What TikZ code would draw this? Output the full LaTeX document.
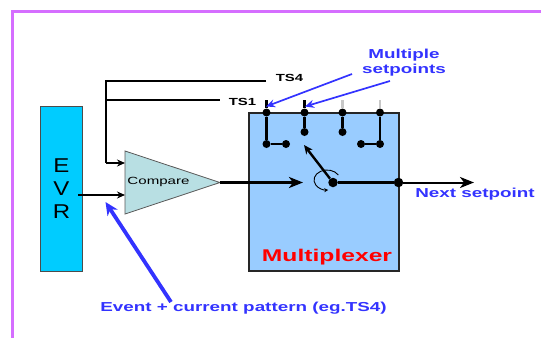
\documentclass[tikz,border=0pt]{standalone}
\usepackage{fontspec}
\setmainfont{Liberation Sans}
\newfontfamily\widefont[FakeStretch=1.45]{Liberation Sans}
\newfontfamily\evrfont[FakeStretch=1.2]{Liberation Sans}
\usetikzlibrary{arrows.meta,positioning}
\definecolor{clrFrame}{HTML}{D56EFF}
\definecolor{clrEvr}{HTML}{00CCFF}
\definecolor{clrMux}{HTML}{99CCFF}
\definecolor{clrCmp}{HTML}{B8DFE3}
\definecolor{clrNote}{HTML}{3333FF}
\tikzset{
  wire/.style={line width=2.3pt, black},
  stub/.style={line width=2.3pt, black!22},
  edge/.style={-{Stealth[length=8pt,width=7pt]}, line width=1.3pt, black},
  bigedge/.style={-{Stealth[length=14pt,width=11pt,inset=4pt]}, line width=2.6pt, black},
  pointer/.style={-{Stealth[length=9pt,width=8pt]}, line width=1.7pt, clrNote},
  dot/.style={circle, fill=black, inner sep=0pt, minimum size=8pt},
  note/.style={font=\widefont\fontsize{13}{15}\selectfont\bfseries, text=clrNote, align=center},
  tslab/.style={font=\widefont\fontsize{10.3}{12}\selectfont\bfseries},
  evrlab/.style={font=\evrfont\fontsize{20}{20}\selectfont},
}
\begin{document}
\begin{tikzpicture}[x=1pt,y=-1pt]
\useasboundingbox (0,0) rectangle (541,338);

% frame
\draw[clrFrame, line width=3pt] (541,11.5) -- (12,11.5) -- (12,338);

% boxes
\node[draw=black!70, line width=0.8pt, fill=clrEvr, minimum width=42pt, minimum height=165pt, inner sep=0pt] (evr) at (61,188.5) {};
\node[evrlab] (evrE) at (61.5,166) {E};
\node[evrlab] (evrV) at (61.5,189) {V};
\node[evrlab] (evrR) at (61.5,212) {R};
\node[draw=black!85, line width=2pt, fill=clrMux, minimum width=150pt, minimum height=158pt, inner sep=0pt] (mux) at (323.5,192) {};
\node[font=\widefont\fontsize{17}{19}\selectfont\bfseries, text=red] (muxlab) at (327,257) {Multiplexer};

% comparator
\draw[black!65, line width=0.8pt, fill=clrCmp] (125,151) coordinate (cmpA) -- (220,182.5) coordinate (cmpC) -- (125,214) coordinate (cmpB) -- cycle;
\node[font=\widefont\fontsize{10.4}{12}\selectfont] (cmplab) at (158.5,182) {Compare};

% inputs
\coordinate (evrout) at (78,195);
\coordinate (cmpin1) at (125,195);
\coordinate (cmpin2) at (125,163);
\coordinate (bend) at (106,163);
\coordinate (top4) at (106,81);
\coordinate (top1) at (106,100);
\coordinate (end4) at (266,81);
\coordinate (end1) at (220,100);
\draw[edge] (evrout) -- (cmpin1);
\draw[edge] (bend) -- (cmpin2);
\draw[wire] (end4) -- (top4) -- (bend);
\draw[wire] (top1) -- (end1);
\node[tslab] (ts4) at (289.5,78) {TS4};
\node[tslab] (ts1) at (242.5,102) {TS1};

% contacts
\coordinate (s1) at (266.5,100);
\coordinate (s2) at (304.5,100);
\coordinate (s3) at (342.5,100);
\coordinate (s4) at (380,100);
\node[dot] (t1) at (266.5,112.5) {};
\node[dot] (t2) at (304.5,112.5) {};
\node[dot] (t3) at (342.5,112.5) {};
\node[dot] (t4) at (380,112.5) {};
\node[dot] (c1) at (266.5,144) {};
\node[dot] (d1) at (286,144) {};
\node[dot] (c2) at (304.5,132) {};
\node[dot] (c3) at (342.5,132) {};
\node[dot] (c4) at (380,144) {};
\node[dot] (d4) at (361,144) {};
\draw[wire] (s1) -- (t1) -- (c1) -- (d1);
\draw[wire] (s2) -- (t2) -- (c2);
\draw[stub] (s3) -- (t3);
\draw[wire] (t3) -- (c3);
\draw[stub] (s4) -- (t4);
\draw[wire] (t4) -- (c4) -- (d4);

% switch
\node[dot, minimum size=9.5pt] (pivot) at (333,182.5) {};
\node[dot, minimum size=9.5pt] (outdot) at (398.5,182.5) {};
\coordinate (wiper) at (304,145);
\coordinate (inarrow) at (303,182.5);
\coordinate (nextend) at (474,182.5);
\draw[bigedge] (cmpC) -- (inarrow);
\draw[-{Stealth[length=9pt,width=8pt]}, line width=2.4pt] (pivot) -- (wiper);
\draw[wire] (pivot) -- (outdot);
\draw[-{Stealth[length=14pt,width=11pt,inset=4pt]}, line width=2pt] (outdot) -- (nextend);
\draw[-{Stealth[length=4pt,width=4pt]}, line width=0.9pt] (338.3,175) arc[start angle=30, end angle=275, x radius=13pt, y radius=10pt];

% notes
\node[note] (setpts) at (404,62.5) {Multiple\\[-0.5pt]setpoints};
\coordinate (p1from) at (352,74);
\coordinate (p1to) at (266,106.5);
\coordinate (p2from) at (390,81);
\coordinate (p2to) at (305,106.5);
\draw[pointer] (p1from) -- (p1to);
\draw[pointer] (p2from) -- (p2to);
\node[note] (nextlab) at (475,194) {Next setpoint};
\node[note] (evlab) at (243.5,308) {Event + current pattern (eg.TS4)};
\coordinate (p3from) at (171,302);
\coordinate (p3to) at (105.5,202);
\draw[-{Stealth[length=13pt,width=12pt]}, line width=3.8pt, clrNote] (p3from) -- (p3to);
\end{tikzpicture}
\end{document}
